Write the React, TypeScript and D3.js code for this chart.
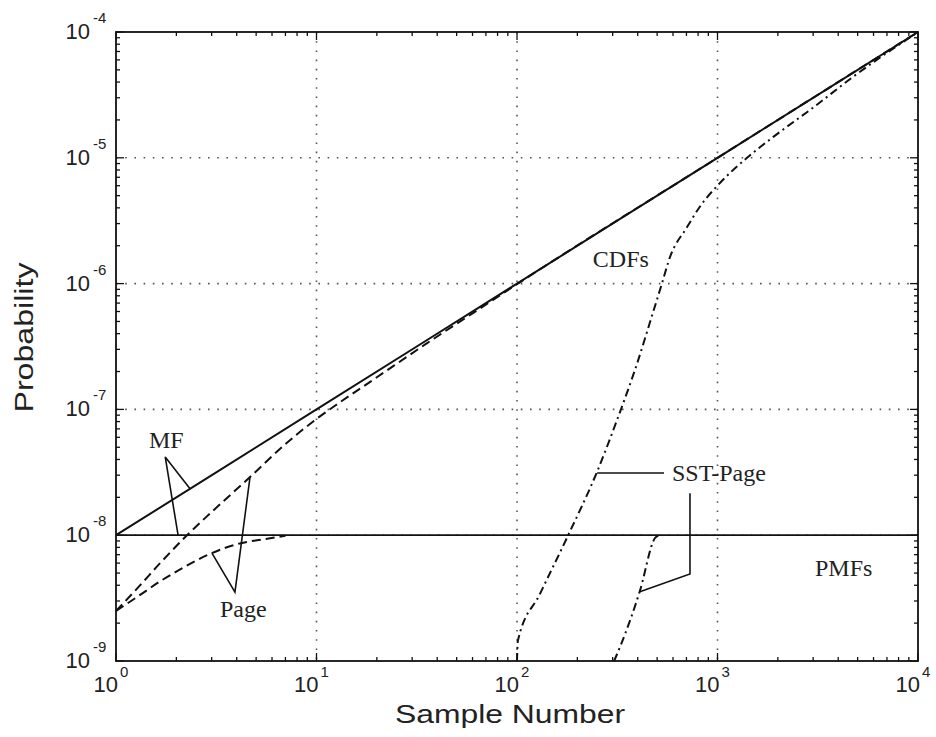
import React from "react";
import * as d3 from "d3";

// ---------- data ----------
const mfCdfN = [1, 10, 100, 1000, 10000];
const mfCdfP = [1e-8, 1e-7, 1e-6, 1e-5, 1e-4];

const mfPmfN = [1, 10000];
const mfPmfP = [1e-8, 1e-8];

const pageCdfN = [1, 1.3, 1.66, 2.26, 3, 4.66, 7, 10, 13, 20, 35, 60, 100, 1000, 10000];
const pageCdfP = [2.5e-9, 3.9e-9, 6.0e-9, 1e-8, 1.53e-8, 2.9e-8, 5.3e-8, 8.4e-8, 1.13e-7, 1.8e-7, 3.3e-7, 5.8e-7, 9.9e-7, 1e-5, 1e-4];

const pagePmfN = [1, 1.3, 1.66, 2.2, 2.94, 4.15, 5.5, 7];
const pagePmfP = [2.5e-9, 3.3e-9, 4.3e-9, 5.6e-9, 7.1e-9, 8.6e-9, 9.3e-9, 9.9e-9];

const sstCdfN = [100, 101, 130, 180, 251, 316, 400, 460, 528, 580, 704, 818, 1028, 1403, 1892, 2993, 4742, 10000];
const sstCdfP = [1e-9, 1.45e-9, 3.4e-9, 1e-8, 3.2e-8, 8.3e-8, 2.4e-7, 4.9e-7, 1e-6, 1.63e-6, 2.8e-6, 4.1e-6, 6.3e-6, 1e-5, 1.46e-5, 2.5e-5, 4.4e-5, 1e-4];

const sstPmfN = [305, 330, 410, 488, 510];
const sstPmfP = [1e-9, 1.35e-9, 3.6e-9, 9.5e-9, 1e-8];

const xDecades = [0, 1, 2, 3, 4];
const yDecades = [-9, -8, -7, -6, -5, -4];

const xTitle = "Sample Number";
const yTitle = "Probability";

// annotation anchors in data coordinates
const labels = [
  { text: "MF", n: 1.46, p: 4.93e-8 },
  { text: "Page", n: 3.3, p: 2.24e-9 },
  { text: "SST-Page", n: 593, p: 2.7e-8 },
  { text: "CDFs", n: 239, p: 1.355e-6 },
  { text: "PMFs", n: 3063, p: 4.74e-9 },
];
const callouts: [number, number][][] = [
  [[2.34, 2.34e-8], [1.76, 4.19e-8], [2.04, 1e-8]],
  [[3.01, 7.2e-9], [3.92, 3.53e-9], [4.66, 2.9e-8]],
  [[251, 3.12e-8], [541, 3.12e-8]],
  [[729, 2.16e-8], [729, 4.92e-9], [410, 3.55e-9]],
];

// ---------- layout ----------
const W = 936, H = 737;
const L = 116, R = 918, T = 32, B = 661;
const SANS = "'Liberation Sans', Arial, Helvetica, sans-serif";
const SERIF = "'Liberation Serif', 'Times New Roman', serif";

export default function App() {
  const x = d3.scaleLog().domain([1, 1e4]).range([L, R]);
  const y = d3.scaleLog().domain([1e-9, 1e-4]).range([B, T]);

  const line = (ns: number[], ps: number[]) =>
    d3
      .line<number>()
      .x((_, i) => x(ns[i]))
      .y((_, i) => y(ps[i]))
      .curve(d3.curveMonotoneX)(ns) || "";

  const poly = d3
    .line<[number, number]>()
    .x((d) => x(d[0]))
    .y((d) => y(d[1]));

  const xMinor: number[] = [];
  for (let e = 0; e < 4; e++) for (let k = 2; k <= 9; k++) xMinor.push(k * Math.pow(10, e));
  const yMinor: number[] = [];
  for (let e = -9; e < -4; e++) for (let k = 2; k <= 9; k++) yMinor.push(k * Math.pow(10, e));

  const gridStyle = { stroke: "#555", strokeWidth: 1.6, strokeDasharray: "1.6,7.6" };

  return (
    <svg
      width={W}
      height={H}
      style={{ position: "absolute", left: 0, top: 0, background: "#fff" }}
    >
      <rect x={0} y={0} width={W} height={H} fill="#fff" />
      {/* grid */}
      {xDecades.slice(1, -1).map((e) => (
        <line key={"gx" + e} x1={x(10 ** e)} x2={x(10 ** e)} y1={T} y2={B} {...gridStyle} />
      ))}
      {yDecades.slice(1, -1).map((e) => (
        <line key={"gy" + e} y1={y(10 ** e)} y2={y(10 ** e)} x1={L} x2={R} {...gridStyle} />
      ))}

      {/* ticks */}
      <g stroke="#111" strokeWidth={1.3}>
        {xMinor.map((v) => (
          <g key={"xm" + v}>
            <line x1={x(v)} x2={x(v)} y1={B} y2={B - 4} />
            <line x1={x(v)} x2={x(v)} y1={T} y2={T + 4} />
          </g>
        ))}
        {xDecades.map((e) => (
          <g key={"xM" + e}>
            <line x1={x(10 ** e)} x2={x(10 ** e)} y1={B} y2={B - 8} />
            <line x1={x(10 ** e)} x2={x(10 ** e)} y1={T} y2={T + 8} />
          </g>
        ))}
        {yMinor.map((v) => (
          <g key={"ym" + v}>
            <line y1={y(v)} y2={y(v)} x1={L} x2={L + 4} />
            <line y1={y(v)} y2={y(v)} x1={R} x2={R - 4} />
          </g>
        ))}
        {yDecades.map((e) => (
          <g key={"yM" + e}>
            <line y1={y(10 ** e)} y2={y(10 ** e)} x1={L} x2={L + 8} />
            <line y1={y(10 ** e)} y2={y(10 ** e)} x1={R} x2={R - 8} />
          </g>
        ))}
      </g>

      {/* curves */}
      <g fill="none" stroke="#111">
        <path d={line(mfPmfN, mfPmfP)} strokeWidth={1.7} />
        <path d={line(mfCdfN, mfCdfP)} strokeWidth={2} />
        <path d={line(pageCdfN, pageCdfP)} strokeWidth={2} strokeDasharray="9,5" />
        <path d={line(pagePmfN, pagePmfP)} strokeWidth={2} strokeDasharray="9,5" />
        <path d={line(sstCdfN, sstCdfP)} strokeWidth={2} strokeDasharray="8,4,2,4" />
        <path d={line(sstPmfN, sstPmfP)} strokeWidth={2} strokeDasharray="8,4,2,4" />
      </g>

      {/* callouts */}
      <g fill="none" stroke="#111" strokeWidth={1.6}>
        {callouts.map((c, i) => (
          <path key={"c" + i} d={poly(c) || ""} />
        ))}
      </g>
      {labels.map((l) => (
        <text key={l.text} x={x(l.n)} y={y(l.p)} fontFamily={SERIF} fontSize={24} fill="#222">
          {l.text}
        </text>
      ))}

      {/* frame */}
      <rect x={L} y={T} width={R - L} height={B - T} fill="none" stroke="#111" strokeWidth={1.8} />

      {/* tick labels */}
      <g fontFamily={SANS} fill="#222">
        {xDecades.map((e) => (
          <g key={"xl" + e}>
            <text x={x(10 ** e) + 2} y={692} fontSize={22} textAnchor="end">10</text>
            <text x={x(10 ** e) + 4} y={677} fontSize={15}>{String(e)}</text>
          </g>
        ))}
        {yDecades.map((e) => (
          <g key={"yl" + e}>
            <text x={90} y={y(10 ** e) + 7} fontSize={22} textAnchor="end">10</text>
            <text x={93} y={y(10 ** e) - 9} fontSize={15}>{String(e)}</text>
          </g>
        ))}
      </g>

      {/* axis titles */}
      <text x={510} y={723} fontFamily={SANS} fontSize={26} textAnchor="middle" fill="#222"
        textLength={230} lengthAdjust="spacingAndGlyphs">{xTitle}</text>
      <text transform="translate(33,337.5) rotate(-90)" fontFamily={SANS} fontSize={26}
        textAnchor="middle" fill="#222" textLength={150} lengthAdjust="spacingAndGlyphs">{yTitle}</text>
    </svg>
  );
}
